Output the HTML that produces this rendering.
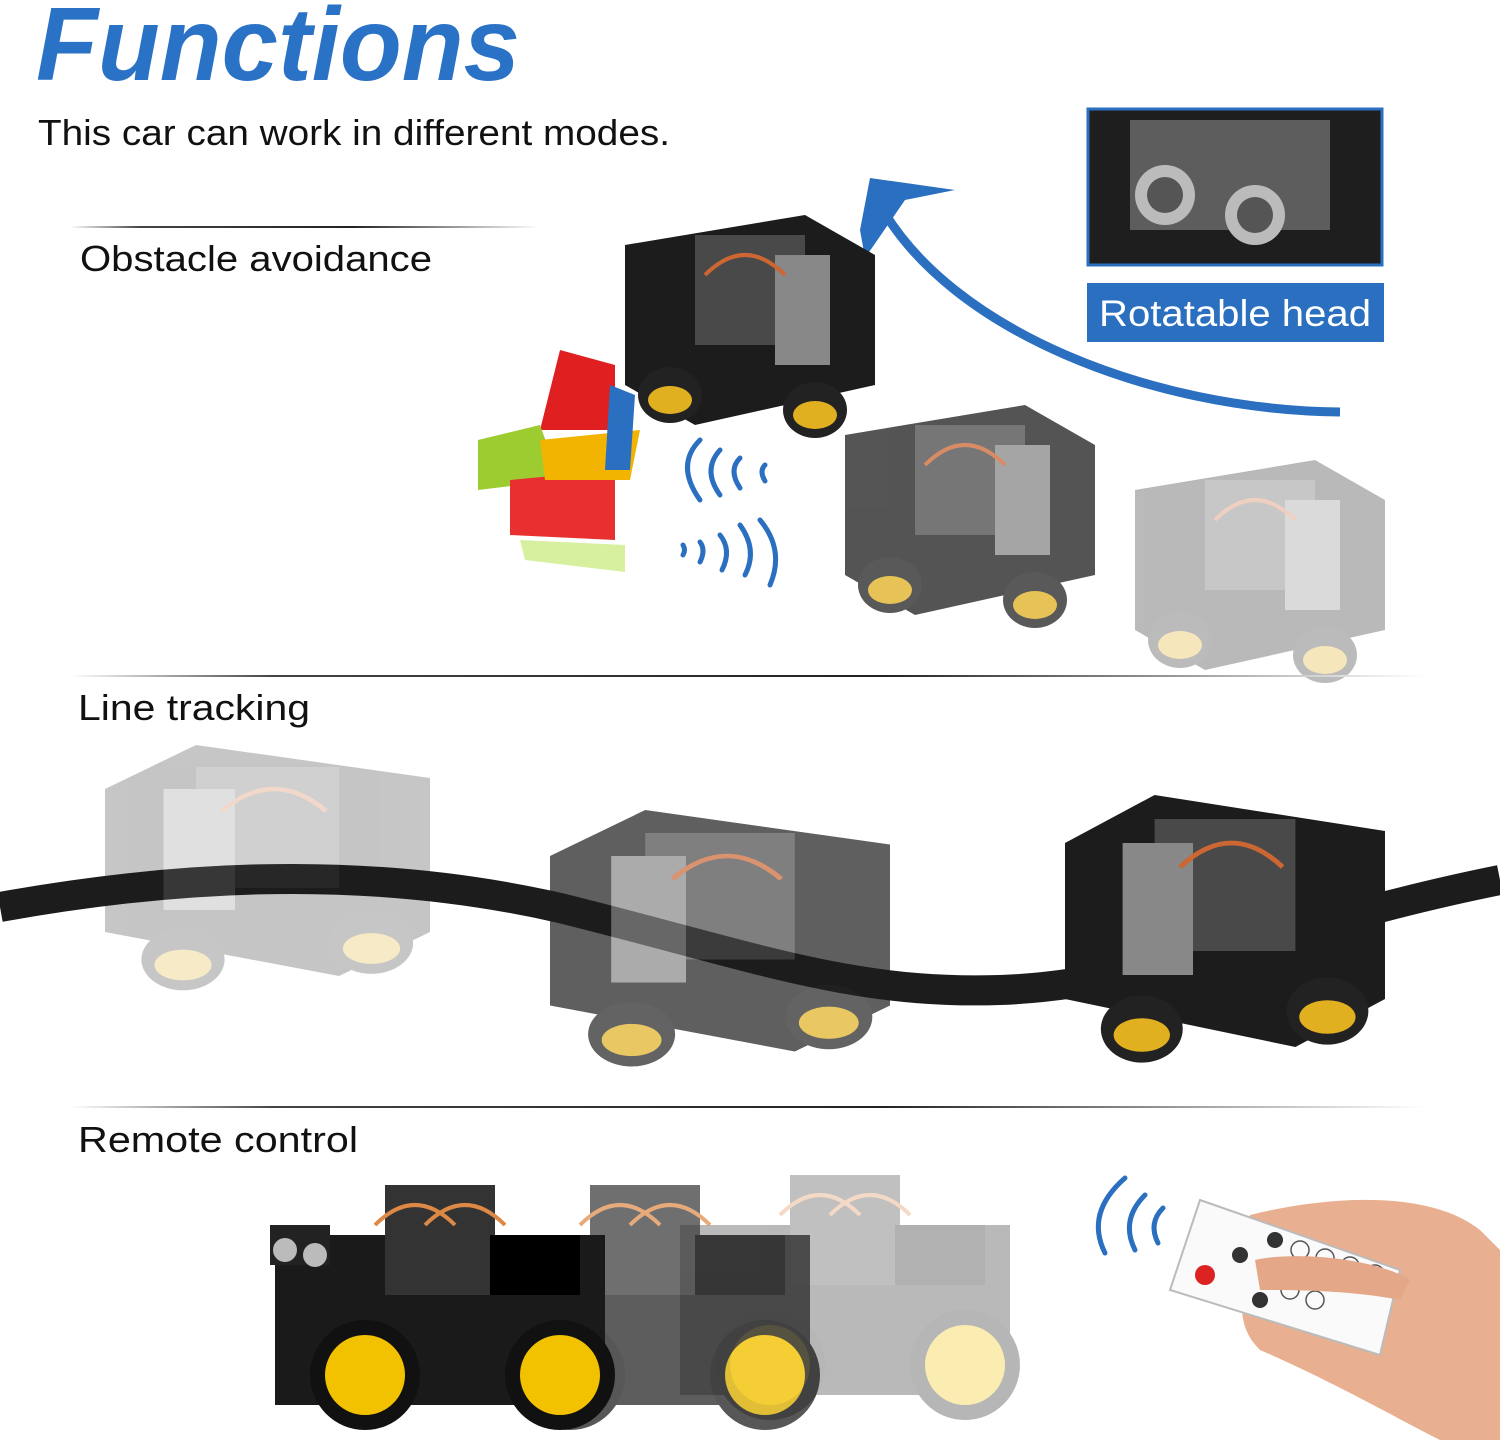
<!DOCTYPE html>
<html><head><meta charset="utf-8"><style>
html,body{margin:0;padding:0;background:#fff;}
svg{display:block;}
text{font-family:"Liberation Sans",sans-serif;}
</style></head><body>
<svg width="1500" height="1443" viewBox="0 0 1500 1443" xmlns="http://www.w3.org/2000/svg">
<defs>
<linearGradient id="ln" x1="0" x2="1"><stop offset="0" stop-color="#fff"/><stop offset="0.15" stop-color="#444"/><stop offset="0.6" stop-color="#222"/><stop offset="1" stop-color="#fff"/></linearGradient>
<g id="car">
  <polygon points="0,30 180,0 250,40 250,170 70,210 0,170" fill="#1c1c1c"/>
  <rect x="70" y="20" width="110" height="110" fill="#555" opacity="0.8"/>
  <rect x="150" y="40" width="55" height="110" fill="#888"/>
  <path d="M80 60 q40 -40 80 0" stroke="#c63" stroke-width="4" fill="none"/>
  <ellipse cx="45" cy="180" rx="32" ry="28" fill="#222"/><ellipse cx="45" cy="185" rx="22" ry="14" fill="#e0b020"/>
  <ellipse cx="190" cy="195" rx="32" ry="28" fill="#222"/><ellipse cx="190" cy="200" rx="22" ry="14" fill="#e0b020"/>
</g>
<g id="car6">
  <rect x="0" y="60" width="330" height="170" fill="#1a1a1a"/>
  <rect x="110" y="10" width="110" height="110" fill="#333"/>
  <path d="M100 50 q40 -40 80 0 M150 50 q40 -40 80 0" stroke="#d84" stroke-width="4" fill="none"/>
  <rect x="215" y="60" width="90" height="60" fill="#000"/>
  <circle cx="90" cy="200" r="55" fill="#111"/><circle cx="90" cy="200" r="40" fill="#f2c200"/>
  <circle cx="285" cy="200" r="55" fill="#111"/><circle cx="285" cy="200" r="40" fill="#f2c200"/>
</g>
</defs>

<text x="36" y="80" font-size="104" font-weight="bold" font-style="italic" fill="#2a72c6" textLength="484" lengthAdjust="spacingAndGlyphs">Functions</text>
<text x="38" y="145" font-size="36" fill="#111" textLength="632" lengthAdjust="spacingAndGlyphs">This car can work in different modes.</text>

<rect x="70" y="226" width="470" height="2" fill="url(#ln)"/>
<text x="80" y="271" font-size="36" fill="#111" textLength="352" lengthAdjust="spacingAndGlyphs">Obstacle avoidance</text>

<!-- rotatable head -->
<rect x="1088" y="109" width="294" height="156" fill="#1e1e1e" stroke="#2a6fc0" stroke-width="3"/>
<rect x="1130" y="120" width="200" height="110" fill="#777" opacity="0.7"/>
<circle cx="1165" cy="195" r="30" fill="#bbb"/><circle cx="1165" cy="195" r="18" fill="#555"/>
<circle cx="1255" cy="215" r="30" fill="#bbb"/><circle cx="1255" cy="215" r="18" fill="#555"/>
<rect x="1087" y="283" width="297" height="59" fill="#2a6fc0"/>
<text x="1099" y="326" font-size="37" fill="#fff" textLength="272" lengthAdjust="spacingAndGlyphs">Rotatable head</text>

<!-- arrow -->
<path d="M1340 412 C1150 410 950 330 880 205" stroke="#2a6fc0" stroke-width="9" fill="none"/>
<polygon points="870,178 955,190 905,200 865,258 860,230" fill="#2a6fc0"/>

<!-- cars obstacle -->
<use href="#car" transform="translate(625,215)"/>
<use href="#car" transform="translate(845,405)" opacity="0.75"/>
<use href="#car" transform="translate(1135,460)" opacity="0.3"/>

<!-- lego -->
<polygon points="560,350 615,365 615,430 540,430" fill="#e02020"/>
<polygon points="478,440 540,425 560,480 478,490" fill="#9ccc30"/>
<polygon points="510,480 615,470 615,540 510,535" fill="#e83030"/>
<polygon points="540,440 640,430 630,480 545,480" fill="#f2b400"/>
<polygon points="520,540 625,545 625,572 525,560" fill="#d7f0a0"/>
<polygon points="610,385 635,395 630,470 605,470" fill="#2a6fc0"/>

<!-- waves -->
<g stroke="#2a6fc0" stroke-width="5" fill="none" stroke-linecap="round">
<path d="M700 440 q-25 25 0 60"/><path d="M720 450 q-18 20 0 45"/><path d="M740 458 q-12 12 0 30"/><path d="M765 465 q-6 6 0 16"/>
<path d="M760 520 q25 30 10 65"/><path d="M740 525 q18 25 5 50"/><path d="M720 535 q12 15 2 35"/><path d="M700 542 q6 8 0 20"/><path d="M683 545 q3 5 0 10"/>
</g>

<rect x="70" y="675" width="1355" height="2" fill="url(#ln)"/>
<text x="78" y="720" font-size="36" fill="#111" textLength="232" lengthAdjust="spacingAndGlyphs">Line tracking</text>

<!-- track -->
<path d="M0 907 C150 880 350 860 560 908 C750 955 850 995 1000 990 C1150 985 1300 920 1500 880" stroke="#1c1c1c" stroke-width="30" fill="none"/>
<use href="#car" transform="translate(430,745) scale(-1.3,1.1)" opacity="0.25"/>
<use href="#car" transform="translate(890,810) scale(-1.36,1.15)" opacity="0.7"/>
<use href="#car" transform="translate(1385,795) scale(-1.28,1.2)"/>

<rect x="70" y="1106" width="1355" height="2" fill="url(#ln)"/>
<text x="78" y="1152" font-size="36" fill="#111" textLength="280" lengthAdjust="spacingAndGlyphs">Remote control</text>

<!-- remote cars -->
<use href="#car6" transform="translate(680,1165)" opacity="0.3"/>
<use href="#car6" transform="translate(480,1175)" opacity="0.7"/>
<use href="#car6" transform="translate(275,1175)"/>
<rect x="270" y="1225" width="60" height="40" fill="#222"/>
<circle cx="285" cy="1250" r="12" fill="#bbb"/><circle cx="315" cy="1255" r="12" fill="#bbb"/>

<!-- remote + hand -->
<g stroke="#2a6fc0" stroke-width="5" fill="none" stroke-linecap="round">
<path d="M1125 1178 q-40 35 -20 75"/><path d="M1145 1195 q-25 25 -10 55"/><path d="M1163 1208 q-15 15 -5 35"/>
</g>
<path d="M1250 1215 C1330 1195 1430 1190 1480 1230 L1500 1250 L1500 1440 L1440 1440 C1400 1420 1330 1380 1260 1350 C1230 1320 1245 1290 1250 1215Z" fill="#e8b090"/>
<polygon points="1200,1200 1400,1270 1380,1355 1170,1290" fill="#fafafa" stroke="#bbb" stroke-width="2"/>
<circle cx="1205" cy="1275" r="10" fill="#d22"/>
<g fill="#333"><circle cx="1275" cy="1240" r="8"/><circle cx="1240" cy="1255" r="8"/><circle cx="1260" cy="1300" r="8"/></g>
<g fill="none" stroke="#555" stroke-width="1.5"><circle cx="1300" cy="1250" r="9"/><circle cx="1325" cy="1258" r="9"/><circle cx="1350" cy="1266" r="9"/><circle cx="1375" cy="1274" r="9"/><circle cx="1290" cy="1290" r="9"/><circle cx="1315" cy="1300" r="9"/></g>
<path d="M1255 1260 C1300 1250 1380 1260 1410 1280 L1400 1300 C1350 1290 1290 1290 1260 1290Z" fill="#e4a888"/>
</svg>
</body></html>
